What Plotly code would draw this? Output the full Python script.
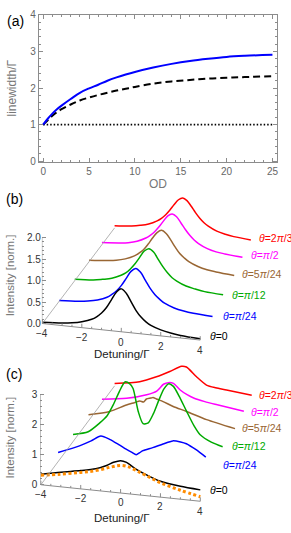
import plotly.graph_objects as go

W, H = 291, 533
FONT = "Liberation Sans, Arial, sans-serif"

# ---------------- data: panel (a) ----------------
od = [0, 0.5, 1, 1.5, 2, 3, 4, 5, 6, 7, 8, 9, 10, 12, 14, 16, 18, 20, 22, 25]
lw_solid = [1.00, 1.16, 1.30, 1.42, 1.52, 1.70, 1.87, 1.99, 2.09, 2.20, 2.29, 2.37,
            2.44, 2.56, 2.66, 2.74, 2.80, 2.85, 2.88, 2.91]
lw_dashed = [1.00, 1.12, 1.24, 1.34, 1.42, 1.55, 1.66, 1.74, 1.81, 1.87, 1.93, 1.98,
             2.03, 2.12, 2.18, 2.22, 2.26, 2.28, 2.30, 2.32]
od_ref = [0, 25]
lw_ref = [1, 1]
od_ticks = [0, 5, 10, 15, 20, 25]
lw_ticks = [0, 1, 2, 3, 4]

# ---------------- data: panel (b) ----------------
theta_labels = ["<i>θ</i>=0", "<i>θ</i>=<i>π</i>/24", "<i>θ</i>=<i>π</i>/12",
                "<i>θ</i>=5<i>π</i>/24", "<i>θ</i>=<i>π</i>/2", "<i>θ</i>=2<i>π</i>/3"]
det_b = [-4, -3, -2.5, -2, -1.5, -1.25, -1, -0.75, -0.5, -0.25, 0,
         0.25, 0.5, 0.75, 1, 1.25, 1.5, 2, 2.5, 3, 4]
int_b0 = [0.03, 0.06, 0.09, 0.14, 0.22, 0.29, 0.39, 0.53, 0.72, 0.91, 1.00,
          0.91, 0.72, 0.53, 0.39, 0.29, 0.22, 0.14, 0.09, 0.06, 0.03]
int_b1 = [0.04, 0.07, 0.10, 0.15, 0.24, 0.32, 0.42, 0.56, 0.74, 0.92, 1.00,
          0.92, 0.74, 0.56, 0.42, 0.32, 0.24, 0.15, 0.10, 0.07, 0.04]
int_b2 = [0.05, 0.08, 0.12, 0.17, 0.27, 0.34, 0.45, 0.59, 0.76, 0.93, 1.00,
          0.93, 0.76, 0.59, 0.45, 0.34, 0.27, 0.17, 0.12, 0.08, 0.05]
int_b3 = [0.05, 0.09, 0.12, 0.18, 0.28, 0.36, 0.46, 0.61, 0.78, 0.93, 1.00,
          0.93, 0.78, 0.61, 0.46, 0.36, 0.28, 0.18, 0.12, 0.09, 0.05]
int_b4 = [0.06, 0.10, 0.13, 0.19, 0.30, 0.38, 0.49, 0.63, 0.79, 0.94, 1.00,
          0.94, 0.79, 0.63, 0.49, 0.38, 0.30, 0.19, 0.13, 0.10, 0.06]
int_b5 = [0.06, 0.10, 0.14, 0.20, 0.31, 0.39, 0.50, 0.64, 0.80, 0.94, 1.00,
          0.94, 0.80, 0.64, 0.50, 0.39, 0.31, 0.20, 0.14, 0.10, 0.06]
int_b = [int_b0, int_b1, int_b2, int_b3, int_b4, int_b5]
int_b_ticks = [0, 0.5, 1.0, 1.5, 2.0]

# ---------------- data: panel (c) ----------------
det_c0 = [-4, -3, -2, -1.25, -0.7, -0.35, 0, 0.3, 0.75, 1.25, 2, 3, 4]
int_c0 = [0.35, 0.49, 0.61, 0.72, 0.87, 1.00, 1.08, 1.04, 0.86, 0.71, 0.53, 0.43, 0.38]
det_c1 = [-4, -2.9, -2.3, -1.8, -1.35, -0.9, -0.5, -0.2, 0.02, 0.2, 0.36, 0.87,
          1.4, 1.9, 2.3, 2.6, 3.1, 3.6]
int_c1 = [0.34, 0.64, 0.85, 1.05, 0.97, 0.83, 0.69, 0.60, 0.54, 0.62, 0.70, 0.84,
          1.00, 1.14, 1.13, 1.09, 0.92, 0.70]
det_c2 = [-4, -3.2, -2.59, -2.2, -1.88, -1.55, -1.26, -1.0, -0.83, -0.56, -0.3, -0.03,
          0.25, 0.5, 0.8, 1.06, 1.3, 1.6, 2.0, 2.4, 2.7, 3.3, 3.9]
int_c2 = [0.27, 0.42, 0.77, 1.05, 1.45, 1.95, 2.30, 2.25, 2.10, 1.32, 0.90, 0.95,
          1.30, 1.73, 2.20, 2.40, 2.32, 2.00, 1.49, 1.00, 0.73, 0.50, 0.38]
det_c3 = [-4, -2.84, -1.93, -1.5, -1.2, -1.0, -0.84, -0.6, -0.48, -0.3, 0.07, 0.62,
          1.35, 2.44, 3.99]
int_c3 = [0.23, 0.43, 0.73, 0.84, 0.92, 0.90, 1.02, 1.07, 1.10, 1.06, 0.99, 0.85,
          0.72, 0.50, 0.28]
det_c4 = [-4, -2.61, -1.48, -0.91, -0.53, -0.25, 0.03, 0.41, 0.8, 1.17, 1.8, 2.5, 4.0]
int_c4 = [0.14, 0.27, 0.48, 0.66, 0.94, 1.02, 1.01, 0.79, 0.64, 0.54, 0.45, 0.38, 0.24]
det_c5 = [-4, -2.54, -1.56, -0.78, -0.1, 0.19, 0.78, 1.36, 1.9, 2.53, 4.0]
int_c5 = [0.09, 0.26, 0.52, 0.78, 1.03, 1.02, 0.68, 0.40, 0.33, 0.29, 0.19]
det_c = [det_c0, det_c1, det_c2, det_c3, det_c4, det_c5]
int_c = [int_c0, int_c1, int_c2, int_c3, int_c4, int_c5]
det_c_dots = [-4, -3, -2, -1.25, -0.5, 0, 0.4, 0.8, 1.25, 2, 3, 4]
int_c_dots = [0.32, 0.42, 0.55, 0.66, 0.83, 0.92, 0.90, 0.80, 0.68, 0.48, 0.30, 0.15]
int_c_ticks = [0, 1, 2, 3]
det_ticks = [-4, -2, 0, 2, 4]
det_tick_text = ["\u22124", "\u22122", "0", "2", "4"]

# ---------------- styles / layout geometry (pixels) ----------------
COLORS = ["#000000", "#0000FF", "#00AA00", "#996633", "#FF00FF", "#FF0000"]
AXC = "#8c8c8c"
GEO_B = dict(ox=[42.5, 59.3, 75, 89.3, 102.3, 115], oy=[324, 302.3, 281, 261.6, 244, 226.7],
             s=[1, 0.972, 0.94, 0.92, 0.89, 0.863], ex=19.8, ey=2.1, ez=43.65,
             axis_x=42, top=185, bottom=352, lab_off=10.5,
             labels=[(209, 337), (222, 316), (231, 295), (241, 274), (250, 254), (258, 237)],
             xa="x2", ya="y2")
GEO_C = dict(ox=[41, 58.3, 73.3, 88.8, 102.3, 115], oy=[488, 465.2, 444.6, 423.3, 404.8, 387.4],
             s=[1, 0.975, 0.95, 0.92, 0.89, 0.86], ex=20, ey=2.1, ez=30.5,
             axis_x=40.5, top=356, bottom=532, lab_off=10,
             labels=[(209, 493), (222, 468), (231, 449), (241, 430), (250, 414), (258, 397)],
             xa="x3", ya="y3")


def px_to_py(py):
    return 1 - py / H


def proj(d, inten, k, g):
    """oblique (perspective-scaled) projection: returns x in pixels, y in front-plane units"""
    s = g["s"][k]
    xp = g["ox"][k] + (d + 4) * g["ex"] * s
    yp = g["oy"][k] + (d + 4) * g["ey"] * s - inten * g["ez"] * s
    return xp, (g["oy"][0] - yp) / g["ez"]


fig = go.Figure()

# panel (a)
fig.add_trace(go.Scatter(x=od_ref, y=lw_ref, mode="lines", xaxis="x", yaxis="y",
                         line=dict(color="black", width=1.6, dash="1.5px,2px"), hoverinfo="skip"))
fig.add_trace(go.Scatter(x=od, y=lw_dashed, mode="lines", xaxis="x", yaxis="y",
                         line=dict(color="black", width=2, dash="7px,4px", shape="spline"),
                         hoverinfo="skip"))
fig.add_trace(go.Scatter(x=od, y=lw_solid, mode="lines", xaxis="x", yaxis="y",
                         line=dict(color="#0000FF", width=2, shape="spline"), hoverinfo="skip"))

shapes = []
annotations = []


def draw_panel(g, dets, ints, smoothing):
    for k in reversed(range(6)):
        xs, ys = [], []
        for d, v in zip(dets[k], ints[k]):
            xp, yv = proj(d, v, k, g)
            xs.append(xp)
            ys.append(yv)
        fig.add_trace(go.Scatter(x=xs, y=ys, mode="lines", xaxis=g["xa"], yaxis=g["ya"],
                                 line=dict(color=COLORS[k], width=1.5, shape="spline",
                                           smoothing=smoothing), hoverinfo="skip"))
    # axes: detuning axis, depth axis
    x0, y0 = proj(-4, 0, 0, g)
    x1, y1 = proj(4, 0, 0, g)
    x5, y5 = proj(-4, 0, 5, g)
    xr, yr = g["xa"], g["ya"]
    shapes.append(dict(type="line", xref=xr, yref=yr, x0=x0, y0=y0, x1=x1, y1=y1,
                       line=dict(color=AXC, width=1)))
    shapes.append(dict(type="line", xref=xr, yref=yr, x0=x0, y0=y0, x1=x5, y1=y5,
                       line=dict(color="#a0a0a0", width=0.8)))
    dd = -4.0
    while dd <= 4.001:
        xt, yt = proj(dd, 0, 0, g)
        major = abs(dd - round(dd / 2) * 2) < 1e-6
        ln = (4 if major else 2) / g["ez"]
        shapes.append(dict(type="line", xref=xr, yref=yr, x0=xt, y0=yt, x1=xt, y1=yt + ln,
                           line=dict(color=AXC, width=1)))
        dd += 0.5
    for d, t in zip(det_ticks, det_tick_text):
        xt, yt = proj(d, 0, 0, g)
        annotations.append(dict(x=xt, y=yt - g["lab_off"] / g["ez"], xref=xr, yref=yr, text=t,
                                showarrow=False, font=dict(size=10, color="#333", family=FONT),
                                xanchor="center", yanchor="middle"))
    for (lx, ly), txt, c in zip(g["labels"], theta_labels, COLORS):
        annotations.append(dict(x=lx / W, y=px_to_py(ly), xref="paper", yref="paper", text=txt,
                                showarrow=False, font=dict(size=10.5, color=c, family=FONT),
                                xanchor="left", yanchor="middle"))


draw_panel(GEO_B, [det_b] * 6, int_b, 1.0)
# dotted curve in panel (c), front plane
xs, ys = [], []
for d, v in zip(det_c_dots, int_c_dots):
    xp, yv = proj(d, v, 0, GEO_C)
    xs.append(xp)
    ys.append(yv)
draw_panel(GEO_C, det_c, int_c, 0.7)
fig.add_trace(go.Scatter(x=xs, y=ys, mode="lines", xaxis="x3", yaxis="y3",
                         line=dict(color="#FF8C00", width=3, dash="3px,2.5px", shape="spline"),
                         hoverinfo="skip"))

# vertical axis lines for (b) and (c)
shapes.append(dict(type="line", xref="x2", yref="y2", x0=GEO_B["axis_x"], x1=GEO_B["axis_x"],
                   y0=0, y1=2.0, line=dict(color=AXC, width=1)))
shapes.append(dict(type="line", xref="x3", yref="y3", x0=GEO_C["axis_x"], x1=GEO_C["axis_x"],
                   y0=0, y1=3.0, line=dict(color=AXC, width=1)))


def ann(x, y, text, size, color, angle=0):
    annotations.append(dict(x=x / W, y=px_to_py(y), xref="paper", yref="paper", text=text,
                            showarrow=False, textangle=angle,
                            font=dict(size=size, color=color, family=FONT),
                            xanchor="center", yanchor="middle"))


ann(16, 16, "(a)", 14, "black")
ann(15, 197, "(b)", 14, "black")
ann(14, 375, "(c)", 14, "black")
ann(158.5, 182, "OD", 12, "#777")
ann(12, 84, "linewidth/Γ", 12, "#777", -90)
ann(10, 275, "Intensity [norm.]", 11.5, "#777", -90)
ann(10, 440, "Intensity [norm.]", 11.5, "#777", -90)
ann(122, 355, "Detuning/Γ", 11.5, "#222")
ann(122, 522, "Detuning/Γ", 11.5, "#222")


def yrange(g):
    return [(g["oy"][0] - g["bottom"]) / g["ez"], (g["oy"][0] - g["top"]) / g["ez"]]


def minor_vals(lo, hi, step, majors):
    out = []
    v = lo
    while v <= hi + 1e-9:
        if all(abs(v - m) > 1e-6 for m in majors):
            out.append(round(v, 4))
        v += step
    return out


fig.update_layout(
    width=W, height=H, margin=dict(l=0, r=0, t=0, b=0),
    paper_bgcolor="white", plot_bgcolor="rgba(0,0,0,0)", showlegend=False,
    font=dict(family=FONT), hovermode=False,
    xaxis=dict(domain=[39 / W, 278 / W], anchor="y", range=[-0.47, 25.5],
               tickvals=od_ticks, ticks="inside", ticklen=4, tickcolor=AXC,
               showline=True, linecolor=AXC, linewidth=1, mirror="ticks",
               showgrid=False, zeroline=False,
               tickfont=dict(size=10, color="#666"),
               minor=dict(dtick=1, tick0=0, ticks="inside", ticklen=2, tickcolor=AXC)),
    yaxis=dict(domain=[px_to_py(160), px_to_py(10)], anchor="x", range=[-0.03, 4],
               tickvals=lw_ticks, ticks="inside", ticklen=4, tickcolor=AXC,
               showline=True, linecolor=AXC, linewidth=1, mirror="ticks",
               showgrid=False, zeroline=False,
               tickfont=dict(size=10, color="#666"),
               minor=dict(dtick=0.2, tick0=0, ticks="inside", ticklen=2, tickcolor=AXC)),
    xaxis2=dict(domain=[GEO_B["axis_x"] / W, 1], anchor="y2", range=[GEO_B["axis_x"], W],
                visible=False),
    yaxis2=dict(domain=[px_to_py(GEO_B["bottom"]), px_to_py(GEO_B["top"])], anchor="x2",
                range=yrange(GEO_B), tickvals=int_b_ticks,
                ticktext=["%.1f" % v for v in int_b_ticks],
                ticks="inside", ticklen=4, tickcolor=AXC, showline=False, showgrid=False,
                zeroline=False, tickfont=dict(size=10, color="#333"),
                minor=dict(tickvals=minor_vals(0, 2.0, 0.1, int_b_ticks), ticks="inside",
                           ticklen=2, tickcolor=AXC)),
    xaxis3=dict(domain=[GEO_C["axis_x"] / W, 1], anchor="y3", range=[GEO_C["axis_x"], W],
                visible=False),
    yaxis3=dict(domain=[px_to_py(GEO_C["bottom"]), px_to_py(GEO_C["top"])], anchor="x3",
                range=yrange(GEO_C), tickvals=int_c_ticks,
                ticks="inside", ticklen=4, tickcolor=AXC, showline=False, showgrid=False,
                zeroline=False, tickfont=dict(size=10, color="#333"), ticklabelstandoff=2,
                minor=dict(tickvals=minor_vals(0, 3.0, 0.2, int_c_ticks), ticks="inside",
                           ticklen=2, tickcolor=AXC)),
    shapes=shapes, annotations=annotations,
)

fig.write_html("out.html", config={"displayModeBar": False},
               post_script="document.body.style.margin='0';")
